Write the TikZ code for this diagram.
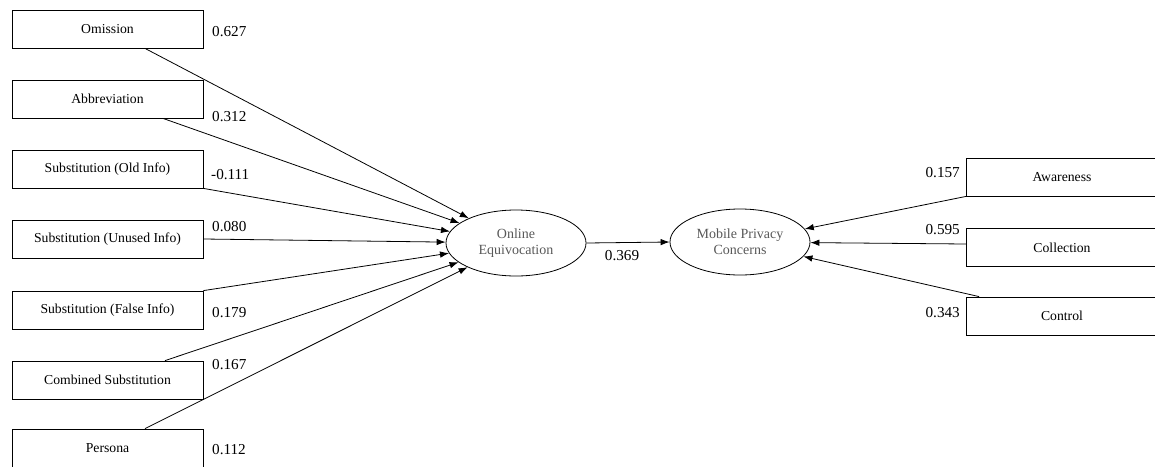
\documentclass[tikz,border=0pt]{standalone}
\usepackage{fontspec}
\setmainfont{Liberation Serif}
\usetikzlibrary{shapes.geometric,arrows.meta}
\tikzset{
  box/.style={draw, line width=0.8pt, rectangle, minimum width=191pt, minimum height=38pt, inner sep=0pt, font=\fontsize{13.7}{16}\selectfont},
  lat/.style={ellipse, draw, line width=0.8pt, minimum width=140pt, minimum height=66pt, inner sep=0pt, align=center, text=black!65, font=\fontsize{14}{16}\selectfont},
  coef/.style={inner sep=0pt, font=\fontsize{15.2}{18}\selectfont},
  path/.style={line width=0.8pt, -{Latex[length=9pt,width=6.5pt]}}
}
\begin{document}
\begin{tikzpicture}[x=1pt,y=-1pt]
\useasboundingbox (0,0) rectangle (1155,466);
\clip (0,0) rectangle (1155,466);
\fill[white] (0,0) rectangle (1155,466);
% left boxes
\node[box] (om) at (107.5,29) {Omission};
\node[box] (ab) at (107.5,99) {Abbreviation};
\node[box] (so) at (107.5,169) {Substitution (Old Info)};
\node[box] (su) at (107.5,239) {Substitution (Unused Info)};
\node[box] (sf) at (107.5,310) {Substitution (False Info)};
\node[box] (cs) at (107.5,380) {Combined Substitution};
\node[box] (pe) at (107.5,448) {Persona};
% latent variables
\node[lat] (oe) at (516,243) {Online\\Equivocation};
\node[lat] (mpc) at (740,242) {Mobile Privacy\\Concerns};
% right boxes
\node[box] (aw) at (1062,177) {Awareness};
\node[box] (co) at (1062,247.5) {Collection};
\node[box] (ct) at (1062,316) {Control};
% start points
\coordinate (s1) at ([xshift=37.5pt]om.south);
\coordinate (s2) at ([xshift=55.5pt]ab.south);
\coordinate (s3) at (so.south east);
\coordinate (s4) at (su.east);
\coordinate (s5) at (sf.north east);
\coordinate (s6) at ([xshift=57.5pt]cs.north);
\coordinate (s7) at ([xshift=37.5pt]pe.north);
\coordinate (r1) at (aw.south west);
\coordinate (r2) at ([yshift=3.5pt]co.west);
\coordinate (r3) at ([xshift=13pt]ct.north west);
% connectors
\foreach \s in {s1,s2,s3,s4,s5,s6,s7} \draw[path] (\s) -- (oe);
\draw[path] (oe.east) -- (mpc.west);
\foreach \s in {r1,r2,r3} \draw[path] (\s) -- (mpc);
% coefficients
\node[coef, anchor=west] (c1) at (212,32) {0.627};
\node[coef, anchor=west] (c2) at (212,117) {0.312};
\node[coef, anchor=west] (c3) at (211,175) {-0.111};
\node[coef, anchor=west] (c4) at (212,227) {0.080};
\node[coef, anchor=west] (c5) at (212,313) {0.179};
\node[coef, anchor=west] (c6) at (212,365) {0.167};
\node[coef, anchor=west] (c7) at (212,450) {0.112};
\node[coef] (c8) at (622,256) {0.369};
\node[coef, anchor=east] (c9) at (960,173) {0.157};
\node[coef, anchor=east] (c10) at (960,230) {0.595};
\node[coef, anchor=east] (c11) at (960,313) {0.343};
\end{tikzpicture}
\end{document}
